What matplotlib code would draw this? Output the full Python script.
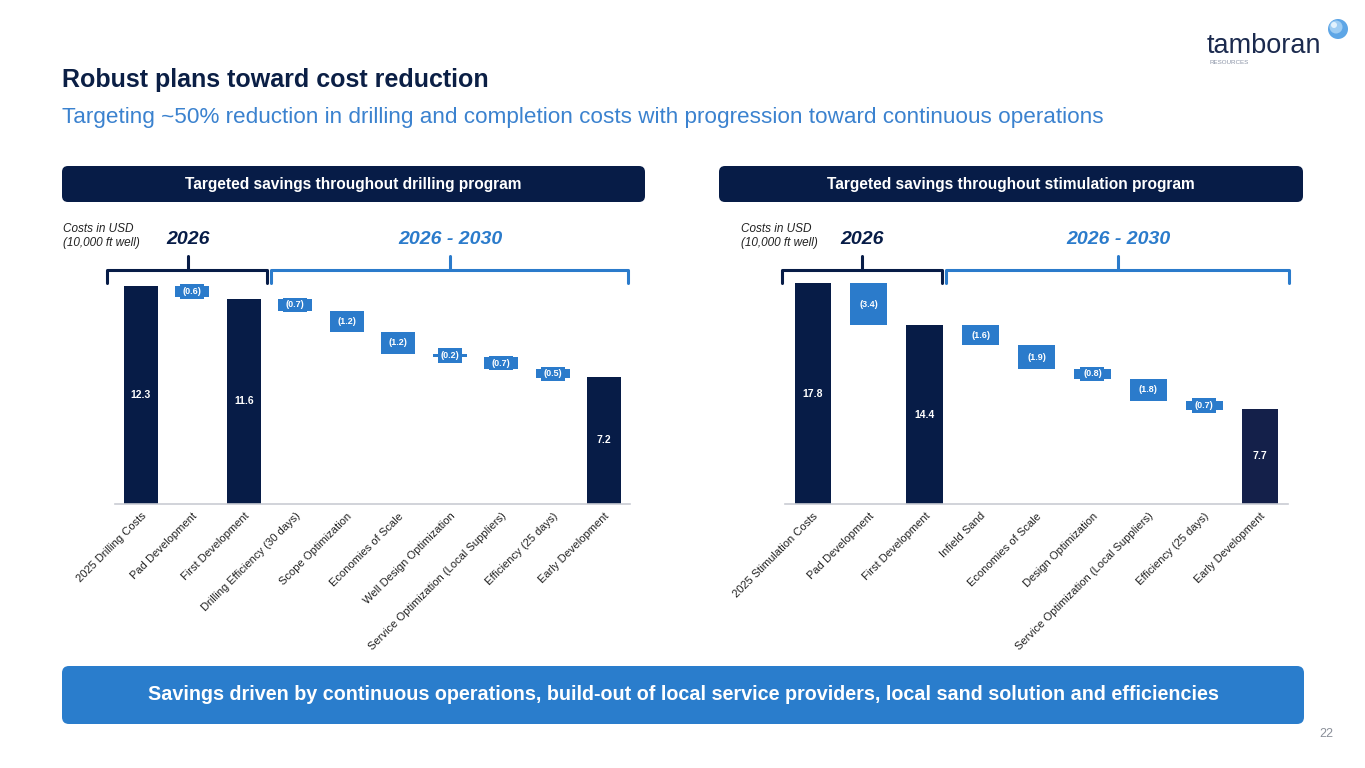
import matplotlib
matplotlib.use("Agg")
import matplotlib.pyplot as plt
from matplotlib.patches import FancyBboxPatch, Circle

plt.rcParams["font.family"] = ["Liberation Sans", "DejaVu Sans"]

NAVY = "#071c47"
BLUE = "#2b7bcb"
GRID = "#c9ccd3"

drill_labels = ["2025 Drilling Costs", "Pad Development", "First Development",
                "Drilling Efficiency (30 days)", "Scope Optimization", "Economies of Scale",
                "Well Design Optimization", "Service Optimization (Local Suppliers)",
                "Efficiency (25 days)", "Early Development"]
drill_values = [12.3, -0.6, 11.6, -0.7, -1.2, -1.2, -0.2, -0.7, -0.5, 7.2]
drill_total = [True, False, True, False, False, False, False, False, False, True]

stim_labels = ["2025 Stimulation Costs", "Pad Development", "First Development",
               "Infield Sand", "Economies of Scale", "Design Optimization",
               "Service Optimization (Local Suppliers)", "Efficiency (25 days)",
               "Early Development"]
stim_values = [17.8, -3.4, 14.4, -1.6, -1.9, -0.8, -1.8, -0.7, 7.7]
stim_total = [True, False, True, False, False, False, False, False, True]

W, H = 1365, 768
fig = plt.figure(figsize=(W / 100, H / 100), dpi=100)
fig.patch.set_facecolor("white")

# overlay in pixel coords for slide decoration
bg = fig.add_axes([0, 0, 1, 1])
bg.set_xlim(0, W)
bg.set_ylim(H, 0)
bg.axis("off")


def waterfall(ax, labels, values, totals, ylim, last_color):
    run = 0
    n = len(values)
    for i, (v, t) in enumerate(zip(values, totals)):
        if t:
            c = last_color if i == n - 1 else NAVY
            ax.bar(i, v, width=0.66, color=c, zorder=2)
            ax.text(i, v / 2, f"{v:.1f}", ha="center", va="center", color="white",
                    fontsize=7.5, fontweight="bold", zorder=3)
            run = v
        else:
            ax.bar(i, -v, bottom=run + v, width=0.66, color=BLUE, zorder=2)
            ax.text(i, run + v / 2, f"({abs(v):.1f})", ha="center", va="center",
                    color="white", fontsize=6.5, fontweight="bold", zorder=3,
                    bbox=dict(boxstyle="square,pad=0.3", fc=BLUE, ec="none"))
            run += v
    ax.set_xlim(-0.5, n - 0.5)
    ax.set_ylim(0, ylim)
    ax.set_xticks(range(n))
    ax.set_xticklabels(labels, rotation=45, ha="right", rotation_mode="anchor",
                       fontsize=8, color="#222222")
    ax.tick_params(axis="x", length=0, pad=5)
    ax.set_yticks([])
    for s in ["top", "left", "right"]:
        ax.spines[s].set_visible(False)
    ax.spines["bottom"].set_color(GRID)
    ax.spines["bottom"].set_linewidth(1.2)
    ax.patch.set_alpha(0)


def px_axes(x0, x1, ytop, ybot):
    return fig.add_axes([x0 / W, 1 - ybot / H, (x1 - x0) / W, (ybot - ytop) / H])


ax1 = px_axes(115, 630, 270, 504)
waterfall(ax1, drill_labels, drill_values, drill_total, 234 / 17.7, NAVY)
ax2 = px_axes(785, 1288, 270, 504)
waterfall(ax2, stim_labels, stim_values, stim_total, 234 / 12.4, "#14204a")

# titles
bg.text(62, 80, "Robust plans toward cost reduction", fontsize=18, fontweight="bold",
        color="#0b1f45", va="center", ha="left")
bg.text(62, 117, "Targeting ~50% reduction in drilling and completion costs with progression toward continuous operations",
        fontsize=16.2, color="#3b82cf", va="center", ha="left")

# section headers
for x0, x1, txt in [(62, 645, "Targeted savings throughout drilling program"),
                    (719, 1303, "Targeted savings throughout stimulation program")]:
    bg.add_patch(FancyBboxPatch((x0, 166), x1 - x0, 36, boxstyle="round,pad=0,rounding_size=6",
                                fc=NAVY, ec="none"))
    bg.text((x0 + x1) / 2, 185, txt, color="white", fontsize=11.2, fontweight="bold",
            ha="center", va="center")


def bracket(x0, x1, xc, color):
    bg.plot([x0, x0, x1, x1], [283, 270, 270, 283], color=color, lw=2.2,
            solid_joinstyle="round", solid_capstyle="round")
    bg.plot([xc, xc], [270, 256], color=color, lw=2.2, solid_capstyle="round")


for cx, b1, b2, t1, t2 in [(63, (107, 267, 188), (271, 628, 450), 188, 450),
                           (741, (782, 942, 862), (946, 1289, 1118), 862, 1118)]:
    bg.text(cx, 229, "Costs in USD", fontsize=8.5, style="italic", color="#222222",
            va="center", ha="left")
    bg.text(cx, 243, "(10,000 ft well)", fontsize=8.5, style="italic", color="#222222",
            va="center", ha="left")
    bracket(*b1, NAVY)
    bracket(*b2, BLUE)
    bg.text(t1, 240, "2026", fontsize=14, fontweight="bold", style="italic", color=NAVY,
            ha="center", va="center")
    bg.text(t2, 240, "2026 - 2030", fontsize=14, fontweight="bold", style="italic",
            color=BLUE, ha="center", va="center")

# bottom banner
bg.add_patch(FancyBboxPatch((62, 666), 1242, 58, boxstyle="round,pad=0,rounding_size=7",
                            fc="#2a7dcc", ec="none"))
bg.text(683, 695, "Savings driven by continuous operations, build-out of local service providers, local sand solution and efficiencies",
        color="white", fontsize=14.2, fontweight="bold", ha="center", va="center")

bg.text(1326, 734, "22", fontsize=9, color="#8a8f99", ha="center", va="center")

# logo
bg.text(1207, 46, "tamboran", fontsize=19.5, color="#1b2a4e", ha="left", va="center")
bg.text(1210, 62, "RESOURCES", fontsize=4.5, color="#8a93a6", ha="left", va="center")
bg.add_patch(Circle((1338, 29), 10, fc="#5ea6e6", ec="none"))
bg.add_patch(Circle((1336, 27), 6.5, fc="#9fcdf3", ec="none"))
bg.add_patch(Circle((1334, 25), 3, fc="#e2f2fd", ec="none"))

fig.savefig("out.png", dpi=100)
